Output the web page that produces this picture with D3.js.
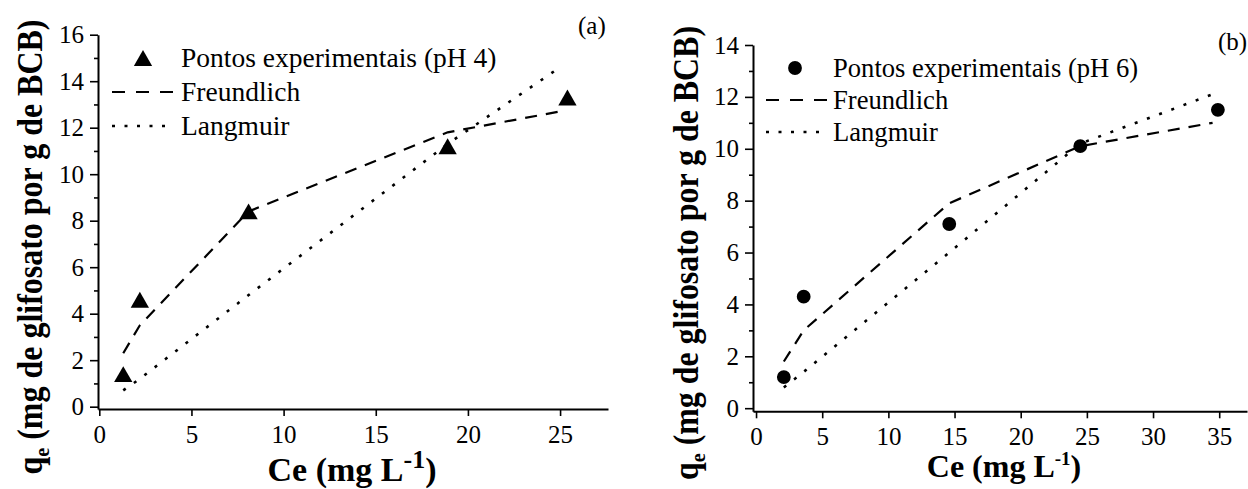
<!DOCTYPE html>
<html lang="pt">
<head>
<meta charset="UTF-8">
<script src="https://d3js.org/d3.v7.min.js"></script>
<style>
  body { margin: 0; background: #fff; }
  svg text { font-family: "Liberation Serif", Tinos, "Times New Roman", "Nimbus Roman", "DejaVu Serif", serif; fill: #000; }
</style>
</head>
<body>
<svg id="chart" width="1248" height="489"></svg>
<script>
// ---- data ----
// (a) pH 4
const ceA = [1.3, 2.2, 8.1, 18.9, 25.4];
const qeA = [1.4, 4.6, 8.4, 11.2, 13.3];
const fitCeA = [1.3, 2.2, 8.1, 18.9, 25.0];
const freundA = [2.3, 3.5, 8.4, 11.8, 12.7];
const langA = [0.7, 1.2, 4.8, 11.3, 14.6];
const xTicksA = [0, 5, 10, 15, 20, 25];
const yTicksA = [0, 2, 4, 6, 8, 10, 12, 14, 16];
const yMinorA = [1, 3, 5, 7, 9, 11, 13, 15];
const legendA = ["Pontos experimentais (pH 4)", "Freundlich", "Langmuir"];

// (b) pH 6
const ceB = [2.1, 3.6, 14.6, 24.5, 34.9];
const qeB = [1.2, 4.3, 7.1, 10.1, 11.5];
const fitCeB = [2.1, 3.6, 14.6, 24.5, 34.5];
const freundB = [1.8, 3.0, 7.9, 10.1, 11.0];
const langB = [0.8, 1.4, 6.0, 10.2, 12.1];
const xTicksB = [0, 5, 10, 15, 20, 25, 30, 35];
const yTicksB = [0, 2, 4, 6, 8, 10, 12, 14];
const yMinorB = [1, 3, 5, 7, 9, 11, 13];
const legendB = ["Pontos experimentais (pH 6)", "Freundlich", "Langmuir"];

const svg = d3.select("#chart");
const FONT = '"Liberation Serif", Tinos, "Times New Roman", "DejaVu Serif", serif';
const DASH = "12,9";
const DOT = "3,10";

const panels = [
  {
    ce: ceA, qe: qeA, fitCe: fitCeA, freund: freundA, lang: langA,
    xTicks: xTicksA, yTicks: yTicksA, yMinor: yMinorA, legend: legendA,
    marker: d3.symbolTriangle, markerSize: 145,
    xDomain: [-0.07, 27.6], xRange: [98, 608],
    yDomain: [-0.1, 16], yRange: [409, 34.7],
    leg: { sx: 143, lx0: 112, lx1: 175, dx1: 165, tx: 181, ys: [58, 92, 126], size: 27.5 },
    tag: "(a)", tagX: 578, tagY: 34,
    yTitle: { x: 42, y: 247, len: 455 },
    xTitle: { x: 352, y: 481, size: 34, sup: 26, shift: 13 }
  },
  {
    ce: ceB, qe: qeB, fitCe: fitCeB, freund: freundB, lang: langB,
    xTicks: xTicksB, yTicks: yTicksB, yMinor: yMinorB, legend: legendB,
    marker: d3.symbolCircle, markerSize: 150,
    xDomain: [-0.23, 37.1], xRange: [753, 1247],
    yDomain: [-0.12, 14], yRange: [411.3, 45],
    leg: { sx: 795, lx0: 766, lx1: 828, dx1: 820, tx: 833, ys: [68, 100, 132], size: 26.6 },
    tag: "(b)", tagX: 1218, tagY: 50,
    yTitle: { x: 698, y: 253, len: 454 },
    xTitle: { x: 1004, y: 477, size: 32, sup: 19, shift: 12 }
  }
];

panels.forEach(p => {
  const x = d3.scaleLinear().domain(p.xDomain).range(p.xRange);
  const y = d3.scaleLinear().domain(p.yDomain).range(p.yRange);
  const g = svg.append("g");

  // axes
  const xa = g.append("g")
    .attr("transform", `translate(0,${p.yRange[0]})`)
    .call(d3.axisBottom(x).tickValues(p.xTicks).tickSize(7).tickPadding(9).tickSizeOuter(0));
  const ya = g.append("g")
    .attr("transform", `translate(${p.xRange[0]},0)`)
    .call(d3.axisLeft(y).tickValues(p.yTicks).tickSize(8).tickPadding(6).tickSizeOuter(0));
  g.append("g")
    .attr("transform", `translate(${p.xRange[0]},0)`)
    .call(d3.axisLeft(y).tickValues(p.yMinor).tickSize(4).tickFormat("").tickSizeOuter(0))
    .call(s => s.select(".domain").remove());
  [xa, ya].forEach(a => {
    a.attr("font-size", 25).attr("font-family", FONT);
    a.select(".domain").attr("stroke-width", 2);
  });
  g.selectAll(".tick line").attr("stroke-width", 1.6);

  // fitted curves
  const line = d3.line().x(d => x(d[0])).y(d => y(d[1]));
  g.append("path").datum(d3.zip(p.fitCe, p.freund)).attr("d", line)
    .attr("fill", "none").attr("stroke", "#000").attr("stroke-width", 2.2)
    .attr("stroke-dasharray", DASH);
  g.append("path").datum(d3.zip(p.fitCe, p.lang)).attr("d", line)
    .attr("fill", "none").attr("stroke", "#000").attr("stroke-width", 2.6)
    .attr("stroke-dasharray", DOT);

  // experimental points
  const sym = d3.symbol().type(p.marker).size(p.markerSize);
  const off = p.marker === d3.symbolTriangle ? Math.sqrt(p.markerSize / (Math.sqrt(3) * 3)) / 2 : 0;
  g.selectAll(".pt").data(d3.zip(p.ce, p.qe)).join("path")
    .attr("class", "pt")
    .attr("d", sym)
    .attr("transform", d => `translate(${x(d[0])},${y(d[1]) + off})`)
    .attr("fill", "#000");

  // legend
  const L = p.leg;
  g.append("path").attr("d", sym)
    .attr("transform", `translate(${L.sx},${L.ys[0] + off})`).attr("fill", "#000");
  g.append("line").attr("x1", L.lx0).attr("x2", L.lx1).attr("y1", L.ys[1]).attr("y2", L.ys[1])
    .attr("stroke", "#000").attr("stroke-width", 2.2).attr("stroke-dasharray", "13,11");
  g.append("line").attr("x1", L.lx0).attr("x2", L.dx1).attr("y1", L.ys[2]).attr("y2", L.ys[2])
    .attr("stroke", "#000").attr("stroke-width", 2.6).attr("stroke-dasharray", "3,9.5");
  g.selectAll(".lt").data(p.legend).join("text")
    .attr("class", "lt")
    .attr("x", L.tx).attr("y", (d, i) => L.ys[i] + 9)
    .attr("font-size", L.size)
    .text(d => d);

  // panel tag
  g.append("text").attr("x", p.tagX).attr("y", p.tagY).attr("font-size", 25).text(p.tag);

  // y title
  const yt = g.append("text")
    .attr("transform", `translate(${p.yTitle.x},${p.yTitle.y}) rotate(-90)`)
    .attr("text-anchor", "middle").attr("font-weight", "bold").attr("font-size", 35)
    .attr("textLength", p.yTitle.len).attr("lengthAdjust", "spacingAndGlyphs");
  yt.append("tspan").text("q");
  yt.append("tspan").attr("font-size", 22).attr("dy", 7).text("e");
  yt.append("tspan").attr("dy", -7).text(" (mg de glifosato por g de BCB)");

  // x title
  const xt = g.append("text")
    .attr("x", p.xTitle.x).attr("y", p.xTitle.y)
    .attr("text-anchor", "middle").attr("font-weight", "bold").attr("font-size", p.xTitle.size);
  xt.append("tspan").text("Ce (mg L");
  xt.append("tspan").attr("font-size", p.xTitle.sup).attr("dy", -p.xTitle.shift).text("-1");
  xt.append("tspan").attr("dy", p.xTitle.shift).text(")");
});
</script>
</body>
</html>
